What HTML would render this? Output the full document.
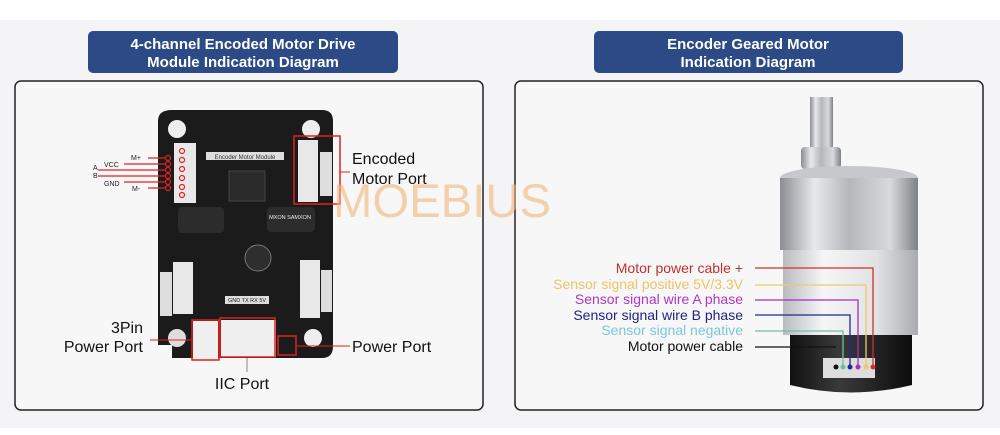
<!DOCTYPE html>
<html><head><meta charset="utf-8"><style>
body{margin:0;width:1000px;height:430px;background:#fff;font-family:"Liberation Sans",sans-serif;overflow:hidden}
</style></head><body>
<svg width="1000" height="430" xmlns="http://www.w3.org/2000/svg" font-family="Liberation Sans, sans-serif">
<defs>
<linearGradient id="silver" x1="0" x2="1"><stop offset="0" stop-color="#8a8d92"/><stop offset=".25" stop-color="#e8e9eb"/><stop offset=".5" stop-color="#b5b7bb"/><stop offset=".8" stop-color="#d8d9db"/><stop offset="1" stop-color="#7d8085"/></linearGradient>
<linearGradient id="body" x1="0" x2="1"><stop offset="0" stop-color="#b9bbbf"/><stop offset=".3" stop-color="#f6f6f7"/><stop offset=".7" stop-color="#e0e1e3"/><stop offset="1" stop-color="#a9abaf"/></linearGradient>
<linearGradient id="blk" x1="0" x2="1"><stop offset="0" stop-color="#111"/><stop offset=".4" stop-color="#3a3a3a"/><stop offset="1" stop-color="#0c0c0c"/></linearGradient>
</defs>
<rect x="0" y="20" width="1000" height="408" fill="#f4f4f6"/>
<rect x="88" y="31" width="310" height="42" rx="5" fill="#2c4a86"/>
<text x="243" y="49" fill="#fff" font-size="15" font-weight="bold" text-anchor="middle">4-channel Encoded Motor Drive</text>
<text x="243" y="67" fill="#fff" font-size="15" font-weight="bold" text-anchor="middle">Module Indication Diagram</text>
<rect x="594" y="31" width="309" height="42" rx="5" fill="#2c4a86"/>
<text x="748" y="49" fill="#fff" font-size="15" font-weight="bold" text-anchor="middle">Encoder Geared Motor</text>
<text x="748" y="67" fill="#fff" font-size="15" font-weight="bold" text-anchor="middle">Indication Diagram</text>
<rect x="15" y="81" width="468" height="329" rx="6" fill="#f7f7f7" stroke="#222" stroke-width="1.5"/>
<rect x="515" y="81" width="468" height="329" rx="6" fill="#f7f7f7" stroke="#222" stroke-width="1.5"/>

<!-- board -->
<path d="M172 110 H322 Q333 110 333 121 V346 Q333 358 322 358 H172 V345 H158 V121 Q158 110 172 110Z" fill="#1b1b1b"/>
<circle cx="177" cy="129" r="9" fill="#eee"/><circle cx="311" cy="129" r="9" fill="#eee"/>
<circle cx="177" cy="338" r="9" fill="#ddd"/><circle cx="313" cy="338" r="9" fill="#eee"/>
<rect x="174" y="143" width="22" height="60" fill="#e8e8e8"/>
<rect x="298" y="140" width="20" height="62" fill="#e8e8e8"/><rect x="320" y="152" width="12" height="44" fill="#ddd"/>
<rect x="173" y="262" width="20" height="52" fill="#e8e8e8"/><rect x="160" y="272" width="12" height="44" fill="#ddd"/>
<rect x="300" y="260" width="20" height="58" fill="#e8e8e8"/><rect x="321" y="270" width="11" height="42" fill="#ddd"/>
<rect x="206" y="152" width="78" height="8" fill="#ddd"/>
<text x="245" y="159" font-size="6" text-anchor="middle" fill="#333">Encoder Motor Module</text>
<rect x="229" y="171" width="36" height="30" fill="#2a2a2a" stroke="#444"/>
<rect x="178" y="207" width="46" height="26" rx="4" fill="#2c2c2c"/>
<rect x="267" y="207" width="48" height="25" rx="4" fill="#2c2c2c"/>
<text x="290" y="219" font-size="5.5" fill="#eee" text-anchor="middle">MXON SAMXON</text>
<circle cx="258" cy="258" r="13" fill="#2e2e2e" stroke="#777"/>
<rect x="225" y="296" width="44" height="8" fill="#ddd"/>
<text x="247" y="302" font-size="5.5" text-anchor="middle" fill="#222">GND TX RX 5V</text>
<rect x="221" y="320" width="55" height="37" fill="#efefef"/>
<rect x="193" y="321" width="25" height="39" fill="#efefef"/>
<rect x="220" y="318" width="55" height="39" fill="none" stroke="#d22" stroke-width="1.5"/>
<rect x="192" y="320" width="27" height="40" fill="none" stroke="#d22" stroke-width="1.5"/>
<rect x="278" y="336" width="18" height="19" fill="none" stroke="#d22" stroke-width="1.5"/>
<rect x="294" y="136" width="46" height="68" fill="none" stroke="#d22" stroke-width="1.5"/>
<line x1="340" y1="172" x2="350" y2="172" stroke="#d22"/>
<line x1="296" y1="346" x2="350" y2="346" stroke="#d22"/>
<line x1="150" y1="340" x2="192" y2="340" stroke="#d22"/>
<line x1="247" y1="358" x2="247" y2="372" stroke="#888"/>
<g stroke="#d22" stroke-width="1.2" fill="none">
<line x1="148" y1="158" x2="166" y2="158"/><line x1="124" y1="164" x2="166" y2="164"/>
<line x1="98" y1="170" x2="166" y2="170"/><line x1="98" y1="176" x2="166" y2="176"/>
<line x1="124" y1="182" x2="166" y2="182"/><line x1="148" y1="188" x2="166" y2="188"/>
<circle cx="168" cy="158" r="2.5"/><circle cx="168" cy="164" r="2.5"/><circle cx="168" cy="170" r="2.5"/><circle cx="168" cy="176" r="2.5"/><circle cx="168" cy="182" r="2.5"/><circle cx="168" cy="188" r="2.5"/>
<circle cx="182" cy="151" r="2.5"/><circle cx="182" cy="160" r="2.5"/><circle cx="182" cy="169" r="2.5"/><circle cx="182" cy="178" r="2.5"/><circle cx="182" cy="187" r="2.5"/><circle cx="182" cy="195" r="2.5"/>
</g>
<g font-size="7" fill="#222"><text x="131" y="160">M+</text><text x="104" y="167">VCC</text><text x="93" y="170">A</text><text x="93" y="178">B</text><text x="104" y="186">GND</text><text x="132" y="191">M-</text></g>
<text x="352" y="164" font-size="16" fill="#111">Encoded</text>
<text x="352" y="184" font-size="16" fill="#111">Motor Port</text>
<text x="143" y="333" font-size="16" fill="#111" text-anchor="end">3Pin</text>
<text x="143" y="352" font-size="16" fill="#111" text-anchor="end">Power Port</text>
<text x="352" y="352" font-size="16" fill="#111">Power Port</text>
<text x="242" y="389" font-size="16" fill="#111" text-anchor="middle">IIC Port</text>
<text x="333" y="217" font-size="47" fill="#f3b67a" opacity=".6" textLength="218" lengthAdjust="spacingAndGlyphs">MOEBIUS</text>

<!-- motor -->
<rect x="810" y="97" width="23" height="50" fill="url(#silver)"/>
<rect x="801" y="147" width="40" height="22" rx="4" fill="url(#silver)"/>
<ellipse cx="849" cy="178" rx="69" ry="12" fill="#c7c8cb"/>
<rect x="780" y="178" width="138" height="72" fill="url(#silver)"/>
<rect x="783" y="250" width="135" height="85" fill="url(#body)"/>
<path d="M790 335 H912 V385 Q851 400 790 385Z" fill="url(#blk)"/>
<rect x="823" y="358" width="52" height="20" fill="#ddd"/>
<g stroke-width="1.3" fill="none">
<polyline points="755,268 873,268 873,366" stroke="#d0302a"/>
<polyline points="755,285 866,285 866,366" stroke="#f0c86a"/>
<polyline points="755,300 858,300 858,366" stroke="#a12fc0"/>
<polyline points="755,315 850,315 850,366" stroke="#1f2a8c"/>
<polyline points="755,331 843,331 843,366" stroke="#6fbfa4"/>
<polyline points="755,347 836,347" stroke="#111"/>
</g>
<circle cx="873" cy="367" r="2.5" fill="#d0302a"/><circle cx="866" cy="367" r="2.5" fill="#f0c86a"/><circle cx="858" cy="367" r="2.5" fill="#a12fc0"/><circle cx="850" cy="367" r="2.5" fill="#1f2a8c"/><circle cx="843" cy="367" r="2.5" fill="#6fbfa4"/><circle cx="836" cy="367" r="2.5" fill="#111"/>
<g font-size="14" text-anchor="end">
<text x="743" y="273" fill="#c0302c">Motor power cable +</text>
<text x="743" y="289" fill="#ecc46a">Sensor signal positive 5V/3.3V</text>
<text x="743" y="304" fill="#b036c6">Sensor signal wire A phase</text>
<text x="743" y="320" fill="#1f237f">Sensor signal wire B phase</text>
<text x="743" y="335" fill="#7cc6dc">Sensor signal negative</text>
<text x="743" y="351" fill="#111">Motor power cable</text>
</g>
</svg>
</body></html>
